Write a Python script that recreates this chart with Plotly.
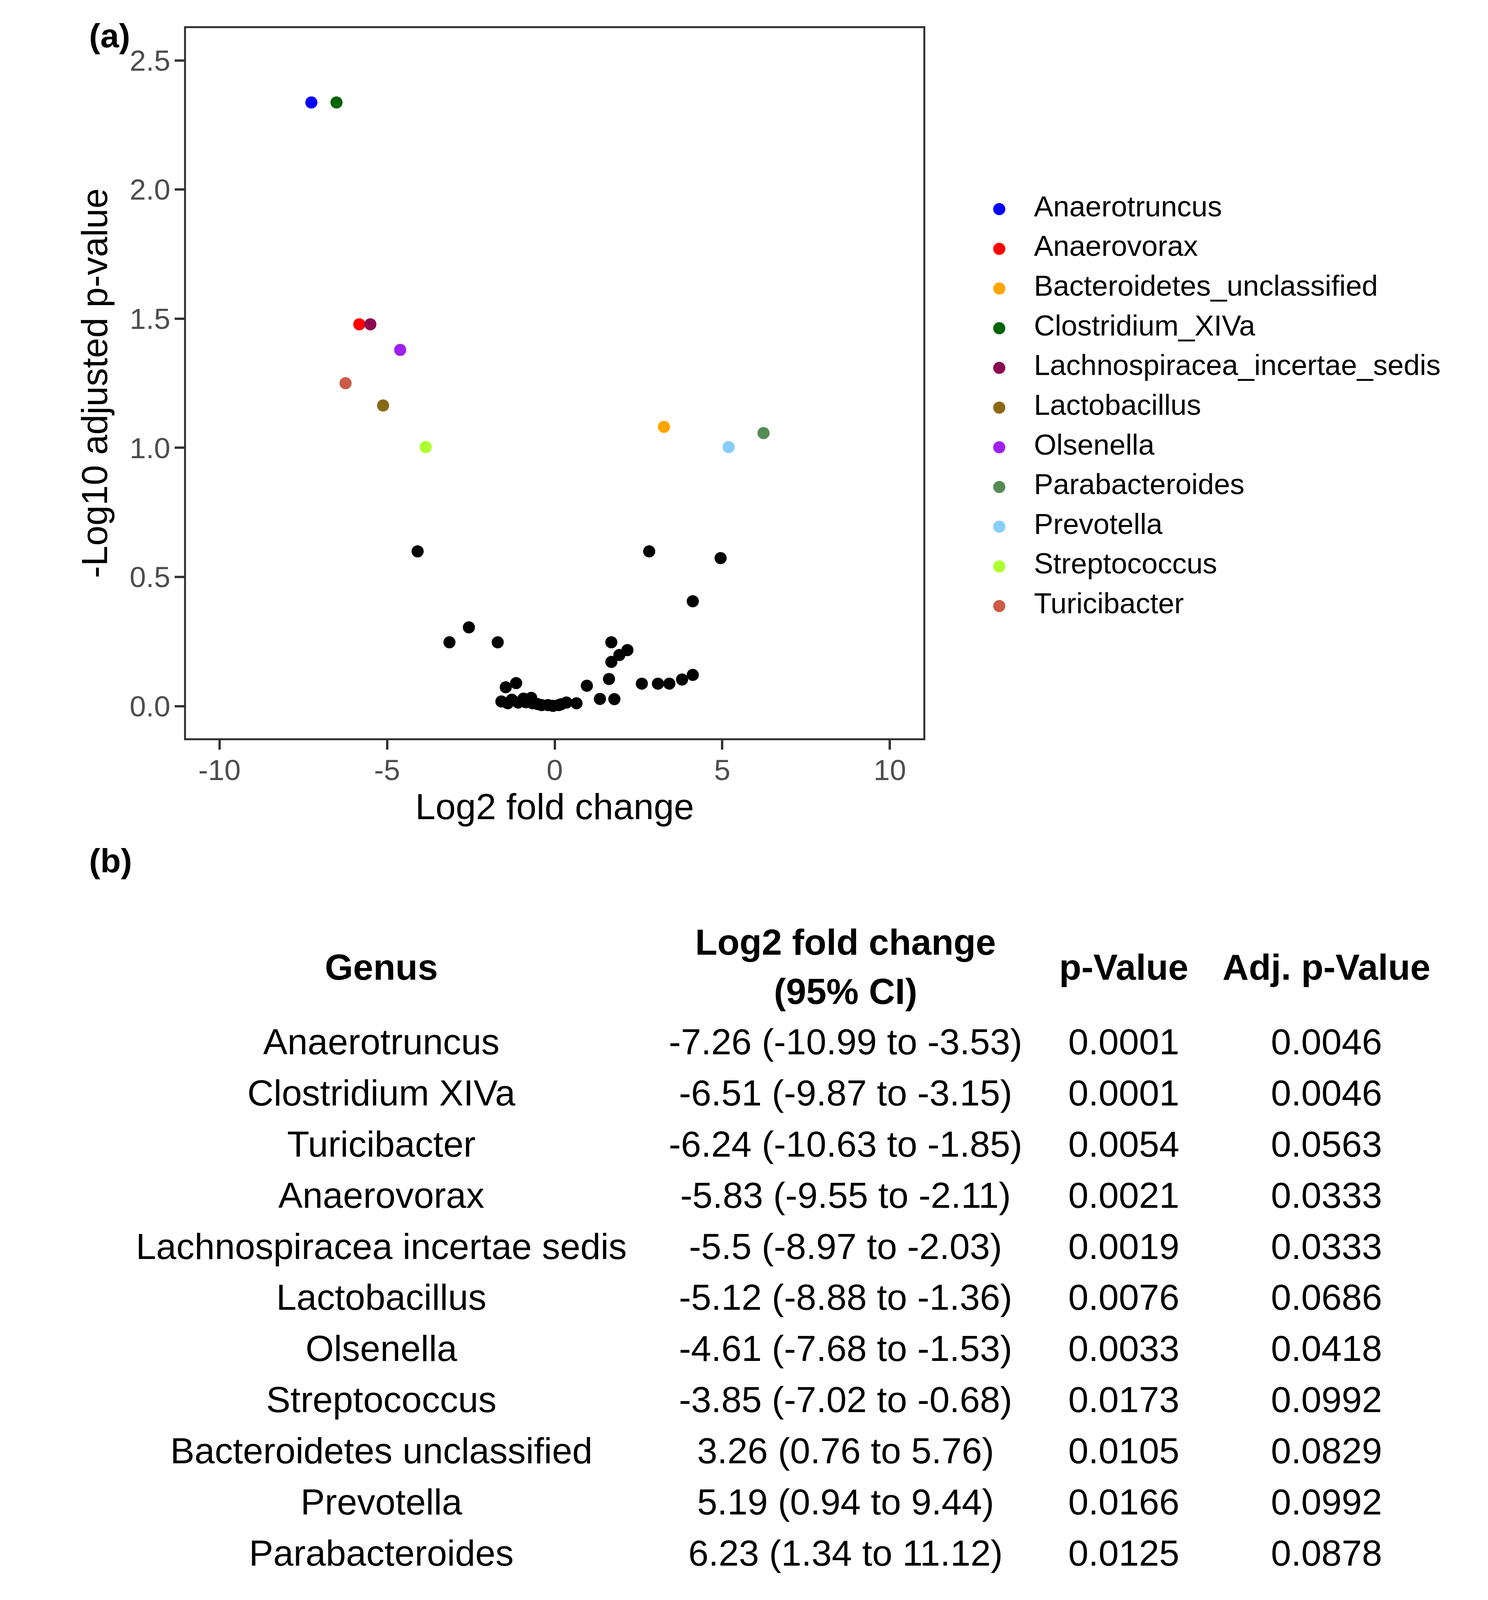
import plotly.graph_objects as go

REF_W, REF_H = 3808, 4413   # reference size, used for layout fractions
FIG_W, FIG_H = 3792, 4060   # rendered size (keeps the whole table inside the visible page)
FONT = "Liberation Sans, Arial, Helvetica, sans-serif"

# ---------------- panel (a): volcano plot data ----------------
SIG_GENERA = ["Anaerotruncus", "Anaerovorax", "Bacteroidetes_unclassified", "Clostridium_XIVa",
              "Lachnospiracea_incertae_sedis", "Lactobacillus", "Olsenella", "Parabacteroides",
              "Prevotella", "Streptococcus", "Turicibacter"]
SIG_LOG2FC = [-7.26, -5.83, 3.26, -6.51, -5.50, -5.12, -4.61, 6.23, 5.19, -3.85, -6.24]
SIG_NEGLOG10_ADJP = [2.337, 1.478, 1.081, 2.337, 1.478, 1.164, 1.379, 1.057, 1.003, 1.003, 1.250]
SIG_COLORS = ["#0000FF", "#FF0000", "#FFA500", "#006400", "#8B0A50", "#8B6914",
              "#A020F0", "#548B54", "#87CEFA", "#ADFF2F", "#CD5B45"]

NS_LOG2FC = [-4.09, 2.82, 4.95, 4.12, -2.56, -3.14, -1.70, 1.69, 2.17, 1.93, 1.69,
             4.12, 3.80, 3.42, 3.08, 2.60, 1.62, 0.96, 1.35, 1.78, -1.15, -1.46,
             -1.59, -1.40, -1.28, -1.09, -0.93, -0.86, -0.70, -0.66, -0.51, -0.39,
             -0.20, -0.05, 0.12, 0.19, 0.35, 0.65]
NS_NEGLOG10_ADJP = [0.599, 0.599, 0.573, 0.406, 0.305, 0.247, 0.247, 0.247, 0.217, 0.198, 0.171,
                    0.121, 0.103, 0.087, 0.087, 0.087, 0.105, 0.079, 0.028, 0.027, 0.089, 0.073,
                    0.018, 0.011, 0.025, 0.014, 0.029, 0.015, 0.032, 0.011, 0.008, 0.004,
                    0.004, 0.001, 0.004, 0.007, 0.014, 0.011]

X_TICKS = [-10, -5, 0, 5, 10]
X_TICK_LABELS = ["-10", "-5", "0", "5", "10"]
Y_TICKS = [0.0, 0.5, 1.0, 1.5, 2.0, 2.5]
Y_TICK_LABELS = ["0.0", "0.5", "1.0", "1.5", "2.0", "2.5"]

# ---------------- panel (b): table data ----------------
TABLE_HEADERS = ["Genus", "Log2 fold change", "(95% CI)", "p-Value", "Adj. p-Value"]
TABLE_GENUS = ["Anaerotruncus", "Clostridium XIVa", "Turicibacter", "Anaerovorax",
               "Lachnospiracea incertae sedis", "Lactobacillus", "Olsenella", "Streptococcus",
               "Bacteroidetes unclassified", "Prevotella", "Parabacteroides"]
TABLE_FC = ["-7.26 (-10.99 to -3.53)", "-6.51 (-9.87 to -3.15)", "-6.24 (-10.63 to -1.85)",
            "-5.83 (-9.55 to -2.11)", "-5.5 (-8.97 to -2.03)", "-5.12 (-8.88 to -1.36)",
            "-4.61 (-7.68 to -1.53)", "-3.85 (-7.02 to -0.68)", "3.26 (0.76 to 5.76)",
            "5.19 (0.94 to 9.44)", "6.23 (1.34 to 11.12)"]
TABLE_P = ["0.0001", "0.0001", "0.0054", "0.0021", "0.0019", "0.0076", "0.0033", "0.0173",
           "0.0105", "0.0166", "0.0125"]
TABLE_ADJP = ["0.0046", "0.0046", "0.0563", "0.0333", "0.0333", "0.0686", "0.0418", "0.0992",
              "0.0829", "0.0992", "0.0878"]

# ---------------- layout constants ----------------
COL_X = [972 / REF_W, 2165 / REF_W, 2880 / REF_W, 3401 / REF_W]   # table column centres
ROWS = list(range(len(TABLE_GENUS)))
LEG_ROWS = list(range(len(SIG_GENERA)))


def fx(px):
    return px / REF_W


def fy(px):
    return 1 - px / REF_H


fig = go.Figure()

# volcano: non-significant (black)
fig.add_trace(go.Scatter(x=NS_LOG2FC, y=NS_NEGLOG10_ADJP, mode="markers",
                         marker=dict(color="black", size=31, line=dict(width=0)),
                         showlegend=False, hoverinfo="skip", xaxis="x", yaxis="y"))
# volcano: significant genera (coloured)
fig.add_trace(go.Scatter(x=SIG_LOG2FC, y=SIG_NEGLOG10_ADJP, mode="markers",
                         marker=dict(color=SIG_COLORS, size=31, line=dict(width=0)),
                         text=SIG_GENERA, showlegend=False, xaxis="x", yaxis="y"))

# custom legend (markers + labels) on a hidden axis pair
fig.add_trace(go.Scatter(x=[0] * len(SIG_GENERA), y=LEG_ROWS, mode="markers",
                         marker=dict(color=SIG_COLORS, size=31, line=dict(width=0)),
                         showlegend=False, hoverinfo="skip", xaxis="x2", yaxis="y2"))
fig.add_trace(go.Scatter(x=[0.85] * len(SIG_GENERA), y=LEG_ROWS, mode="text",
                         text=SIG_GENERA, textposition="middle right",
                         textfont=dict(family=FONT, size=74, color="black"),
                         showlegend=False, hoverinfo="skip", xaxis="x2", yaxis="y2"))

# table on a hidden axis pair
TBL_FONT = dict(family=FONT, size=93, color="black")
fig.add_trace(go.Scatter(x=[COL_X[0], COL_X[2], COL_X[3]], y=[-1.46, -1.46, -1.46], mode="text",
                         text=["<b>%s</b>" % TABLE_HEADERS[0], "<b>%s</b>" % TABLE_HEADERS[3],
                               "<b>%s</b>" % TABLE_HEADERS[4]],
                         textposition="middle center", textfont=TBL_FONT,
                         showlegend=False, hoverinfo="skip", xaxis="x3", yaxis="y3"))
fig.add_trace(go.Scatter(x=[COL_X[1], COL_X[1]], y=[-1.95, -0.99], mode="text",
                         text=["<b>%s</b>" % TABLE_HEADERS[1], "<b>%s</b>" % TABLE_HEADERS[2]],
                         textposition="middle center", textfont=TBL_FONT,
                         showlegend=False, hoverinfo="skip", xaxis="x3", yaxis="y3"))
for ci, col in enumerate([TABLE_GENUS, TABLE_FC, TABLE_P, TABLE_ADJP]):
    fig.add_trace(go.Scatter(x=[COL_X[ci]] * len(col), y=ROWS, mode="text", text=col,
                             textposition="middle center", textfont=TBL_FONT,
                             showlegend=False, hoverinfo="skip", xaxis="x3", yaxis="y3"))

axis_common = dict(showgrid=False, zeroline=False, showline=True, mirror=True,
                   linecolor="#333333", linewidth=5, ticks="outside", ticklen=24,
                   tickwidth=6, tickcolor="#333333", automargin=False,
                   tickfont=dict(family=FONT, size=75, color="#4D4D4D"))

fig.update_layout(
    width=FIG_W, height=FIG_H,
    margin=dict(l=0, r=0, t=0, b=0),
    paper_bgcolor="white", plot_bgcolor="white",
    font=dict(family=FONT, color="black"),
    showlegend=False,
    xaxis=dict(domain=[fx(470), fx(2365)], range=[-11, 11], tickvals=X_TICKS,
               ticktext=X_TICK_LABELS, anchor="y", ticklabelstandoff=-12,
               title=dict(text="Log2 fold change", font=dict(family=FONT, size=93, color="black"),
                          standoff=8),
               **axis_common),
    yaxis=dict(domain=[fy(2046), fy(69.4)], range=[-0.125, 2.625], tickvals=Y_TICKS,
               ticktext=Y_TICK_LABELS, anchor="x", ticklabelstandoff=-4,
               title=dict(text="-Log10 adjusted p-value",
                          font=dict(family=FONT, size=93, color="black"), standoff=28),
               **axis_common),
    xaxis2=dict(domain=[fx(2455.2), fx(3712.8)], range=[-1, 11], visible=False, anchor="y2"),
    yaxis2=dict(domain=[fy(1733), fy(518)], range=[10.5, -0.5], visible=False, anchor="x2"),
    xaxis3=dict(domain=[0, 1], range=[0, 1], visible=False, anchor="y3"),
    yaxis3=dict(domain=[0, fy(2480)], range=[10.64, -2.954], visible=False, anchor="x3"),
    annotations=[
        dict(text="<b>(a)</b>", x=fx(219), y=fy(90), xref="paper", yref="paper",
             xanchor="left", yanchor="middle", showarrow=False,
             font=dict(family=FONT, size=86, color="black")),
        dict(text="<b>(b)</b>", x=fx(219), y=fy(2386), xref="paper", yref="paper",
             xanchor="left", yanchor="middle", showarrow=False,
             font=dict(family=FONT, size=86, color="black")),
    ],
)

fig.write_html("out.html")
